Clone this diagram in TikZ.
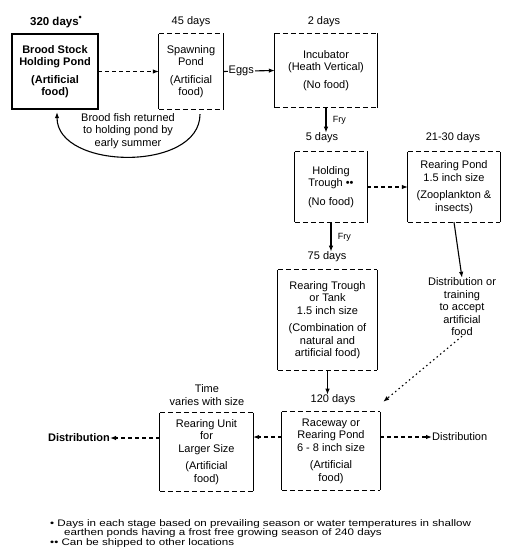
\documentclass[tikz,border=0pt]{standalone}
\usepackage{fontspec}
\usepackage{graphicx}
\setmainfont{Liberation Sans}
\usetikzlibrary{arrows.meta,calc}
\newcommand\stageframe[1]{%
  \draw[boxside] (#1.north west) -- (#1.south west) (#1.north east) -- (#1.south east);
  \draw[boxedge] (#1.north west) -- (#1.north east) (#1.south west) -- (#1.south east);}
\newcommand\widenote[1]{\scalebox{1.22}[1]{#1}}
\begin{document}
\begin{tikzpicture}[x=1pt,y=-1pt,
  txt/.style={font=\fontsize{11}{12.5}\selectfont},
  stagebox/.style={txt, inner sep=0pt, align=center},
  stagetitle/.style={txt, inner sep=0pt, align=center},
  boxside/.style={line width=1.1pt},
  boxedge/.style={line width=1.1pt, dash pattern=on 5pt off 3pt},
  arr/.style={line width=1.1pt, -{Latex[length=6pt,width=4.5pt]}},
  darr/.style={arr, dash pattern=on 4pt off 3pt},
  dotarr/.style={arr, dash pattern=on 1.5pt off 3pt},
  note/.style={font=\fontsize{9.5}{10}\selectfont, inner sep=0pt, anchor=west}]
\useasboundingbox (0,0) rectangle (506,559);
% boxes
\node[stagebox, font=\bfseries\fontsize{11}{12.5}\selectfont, minimum width=86pt, minimum height=75pt] (b1) at (55,71.5) {Brood Stock\\Holding Pond\\[5pt](Artificial\\food)};
\node[stagebox, minimum width=64pt, minimum height=75pt] (b2) at (191,71.5) {Spawning\\Pond\\[5pt](Artificial\\food)};
\node[stagebox, minimum width=102pt, minimum height=74pt] (b3) at (326,70.5) {Incubator\\(Heath Vertical)\\[5pt](No food)};
\node[stagebox, minimum width=72pt, minimum height=70pt] (b4) at (331,187) {Holding\\Trough ••\\[6pt](No food)};
\node[stagebox, minimum width=92pt, minimum height=70pt] (b5) at (454,187) {Rearing Pond\\1.5 inch size\\[5pt](Zooplankton \&\\insects)};
\node[stagebox, minimum width=99pt, minimum height=100pt] (b6) at (327.5,320) {Rearing Trough\\or Tank\\1.5 inch size\\[5pt](Combination of\\natural and\\artificial food)};
\node[stagebox, minimum width=98pt, minimum height=78pt] (b7) at (331,451) {Raceway or\\Rearing Pond\\6 - 8 inch size\\[5pt](Artificial\\food)};
\node[stagebox, minimum width=93pt, minimum height=78pt] (b8) at (206.5,452) {Rearing Unit\\for\\Larger Size\\[5pt](Artificial\\food)};
\draw[line width=1.6pt] (b1.north west) rectangle (b1.south east);
\stageframe{b2}
\stageframe{b3}
\stageframe{b4}
\stageframe{b5}
\stageframe{b6}
\stageframe{b7}
\stageframe{b8}
% titles
\node[stagetitle, font=\bfseries\fontsize{11.5}{12.5}\selectfont] (t1) at (56,22) {320 days\raisebox{5pt}{\fontsize{9}{9}\selectfont•}};
\node[stagetitle] (t2) at (191,22) {45 days};
\node[stagetitle] (t3) at (324,22) {2 days};
\node[stagetitle] (t4) at (322,138) {5 days};
\node[stagetitle] (t5) at (453,138) {21-30 days};
\node[stagetitle] (t6) at (327,257) {75 days};
\node[stagetitle] (t7) at (333,400) {120 days};
\node[stagetitle] (t8) at (207,395) {Time\\varies with size};
% other texts
\node[stagebox] (dtx) at (462,307) {Distribution or\\training\\to accept\\artificial\\food};
\node[txt, font=\bfseries\fontsize{11}{12.5}\selectfont, inner sep=0pt, anchor=east] (d1) at (110,438) {Distribution};
\node[txt, inner sep=0pt, anchor=west] (d2) at (432,437) {Distribution};
\node[stagebox] (ret) at (128,131) {Brood fish returned\\to holding pond by\\early summer};
\coordinate (c7) at ($(b7.north east)+(3,-10)$);
% connectors
\draw[darr] (b1.east) -- (b2.west);
\draw[arr] (b2.east) -- node[pos=0.35, fill=white, inner sep=1pt, txt] {Eggs} (b3.west);
\draw[arr] ($(b2.south)+(9,5)$) .. controls +(0,58) and +(0,58) .. ($(b1.south)+(2,3)$);
\draw[arr] (b3.south) -- node[midway, right=3pt, font=\fontsize{9}{10}\selectfont] {Fry} (b3.south |- t4.north);
\draw[darr] (b4.east) -- (b5.west);
\draw[arr] (b4.south) -- node[midway, right=3pt, font=\fontsize{9}{10}\selectfont] {Fry} (b4.south |- t6.north);
\draw[arr] (b5.south) -- (dtx.north);
\draw[dotarr] (dtx.south) -- (c7);
\draw[arr] (b6.south) -- (b6.south |- t7.north);
\draw[darr] (b7.east |- d2.west) -- (d2.west);
\draw[darr] (b7.west |- d2.west) -- (b8.east |- d2.west);
\draw[darr] (b8.west |- d1.east) -- (d1.east);
% footnotes
\node[note] (f1) at (50,524) {\widenote{• Days in each stage based on prevailing season or water temperatures in shallow}};
\node[note] (f2) at (64,533) {\widenote{earthen ponds having a frost free growing season of 240 days}};
\node[note] (f3) at (50,543) {\widenote{•• Can be shipped to other locations}};
\end{tikzpicture}
\end{document}
